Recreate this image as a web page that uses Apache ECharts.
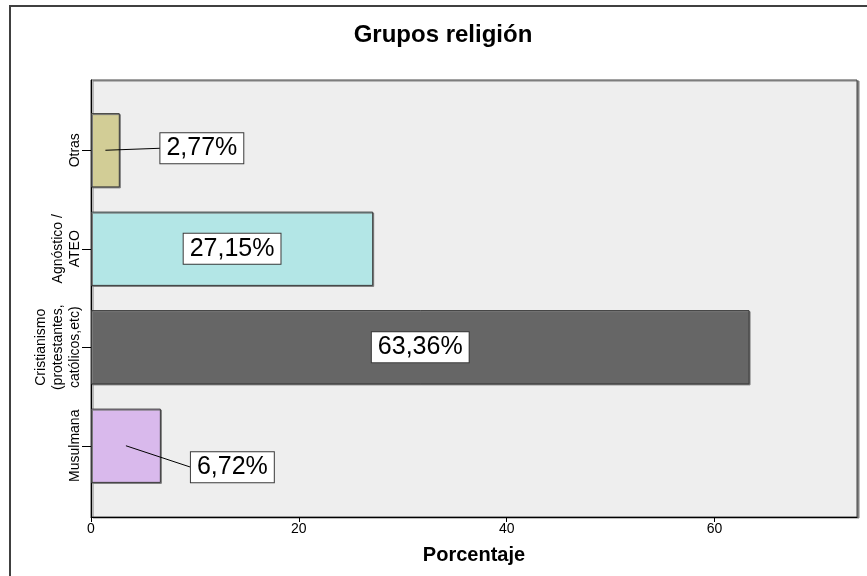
<!DOCTYPE html>
<html>
<head>
<meta charset="utf-8">
<script src="https://cdn.jsdelivr.net/npm/echarts@6/dist/echarts.min.js"></script>
<style>
  html, body { margin: 0; padding: 0; background: #ffffff; }
  #chart { width: 867px; height: 576px; }
</style>
</head>
<body>
<div id="chart"></div>
<script>
// Religious groups, percentage of respondents (bottom to top on the axis)
var categories = ['Musulmana', 'Cristianismo\n(protestantes,\ncatólicos,etc)', 'Agnóstico /\nATEO', 'Otras'];
var percentages = [6.72, 63.36, 27.15, 2.77];
var xTicks = [0, 20, 40, 60];

var barColors = ['#D9B9EC', '#666666', '#B3E6E6', '#D2CD96'];
// Label boxes of narrow bars sit beside the bar with a leader line: [dx from bar centre to box left, dy]
var labelShift = [[65, 21.5], null, null, [55, -2]];

var FONT = '"Liberation Sans", Arial, sans-serif';
var X_MAX = 73.7;

function fmt(v) {
  return v.toFixed(2).replace('.', ',') + '%';
}

var chart = echarts.init(document.getElementById('chart'), null, { renderer: 'canvas' });

var option = {
  animation: false,
  backgroundColor: '#ffffff',
  title: {
    text: 'Grupos religión',
    left: 438,
    top: 18,
    textAlign: 'center',
    textStyle: { fontFamily: FONT, fontSize: 24, fontWeight: 'bold', color: '#000' }
  },
  graphic: [{
    type: 'rect',
    shape: { x: 10, y: 6, width: 900, height: 600 },
    style: { fill: 'none', stroke: '#404040', lineWidth: 2 },
    silent: true
  }],
  grid: [
    { // plot frame
      left: 91, right: 10, top: 80, bottom: 59,
      show: true, backgroundColor: '#EEEEEE',
      borderColor: '#444', borderWidth: 1,
      shadowColor: '#808080', shadowOffsetX: 2, shadowOffsetY: 1, shadowBlur: 0
    },
    { // bar band area
      left: 91, right: 10, top: 101, bottom: 81
    }
  ],
  xAxis: [
    {
      gridIndex: 0, type: 'value', min: 0, max: X_MAX, interval: 20,
      name: 'Porcentaje', nameLocation: 'middle', nameGap: 28,
      nameTextStyle: { fontFamily: FONT, fontSize: 20, fontWeight: 'bold', color: '#000' },
      axisLine: { show: true, lineStyle: { color: '#000', width: 1 } },
      axisTick: { show: true, length: 5, lineStyle: { color: '#000' } },
      axisLabel: {
        fontFamily: FONT, fontSize: 14, color: '#000', margin: 5,
        showMaxLabel: false,
        formatter: function (v) { return xTicks.indexOf(v) >= 0 ? String(v) : ''; }
      },
      splitLine: { show: false }
    },
    {
      gridIndex: 1, type: 'value', min: 0, max: X_MAX, show: false
    }
  ],
  yAxis: [
    {
      gridIndex: 0, type: 'value', min: 0, max: 1,
      axisLine: { show: true, onZero: false, lineStyle: { color: '#000', width: 1 } },
      axisTick: { show: false }, axisLabel: { show: false }, splitLine: { show: false }
    },
    {
      gridIndex: 1, type: 'category', data: categories,
      axisLine: { show: false },
      axisTick: { show: true, alignWithLabel: true, interval: 0, length: 9, lineStyle: { color: '#000' } },
      axisLabel: {
        interval: 0, rotate: 90, margin: 7, fontFamily: FONT, fontSize: 14, lineHeight: 17, color: '#000'
      },
      splitLine: { show: false }
    }
  ],
  series: [
    {
      type: 'bar',
      xAxisIndex: 1, yAxisIndex: 1,
      barCategoryGap: '24.6%',
      data: percentages.map(function (v, i) {
        return {
          value: v,
          itemStyle: {
            color: barColors[i], borderColor: '#3c3c3c', borderWidth: 1,
            shadowColor: '#7a7a7a', shadowOffsetX: 1, shadowOffsetY: 1, shadowBlur: 0
          }
        };
      })
    },
    {
      // value labels in white boxes, with leader lines for narrow bars
      type: 'custom',
      xAxisIndex: 1, yAxisIndex: 1,
      z: 10,
      data: percentages.map(function (v, i) { return [v, i]; }),
      encode: { x: 0, y: 1 },
      renderItem: function (params, api) {
        var v = api.value(0);
        var idx = api.value(1);
        var c = api.coord([v / 2, idx]);
        var shift = labelShift[idx];
        var textStyle = {
          text: fmt(v),
          font: '25px ' + FONT,
          fill: '#000',
          backgroundColor: '#ffffff',
          borderColor: '#3a3a3a',
          borderWidth: 1,
          padding: [3, 6, 2, 6],
          verticalAlign: 'middle'
        };
        if (!shift) {
          textStyle.x = c[0];
          textStyle.y = c[1];
          textStyle.align = 'center';
          return { type: 'text', style: textStyle };
        }
        var lx = c[0] + shift[0];
        var ly = c[1] + shift[1];
        textStyle.x = lx;
        textStyle.y = ly;
        textStyle.align = 'left';
        return {
          type: 'group',
          children: [
            {
              type: 'line',
              shape: { x1: c[0], y1: c[1], x2: lx, y2: ly },
              style: { stroke: '#000', lineWidth: 1 }
            },
            { type: 'text', style: textStyle }
          ]
        };
      }
    }
  ]
};

chart.setOption(option);
</script>
</body>
</html>
